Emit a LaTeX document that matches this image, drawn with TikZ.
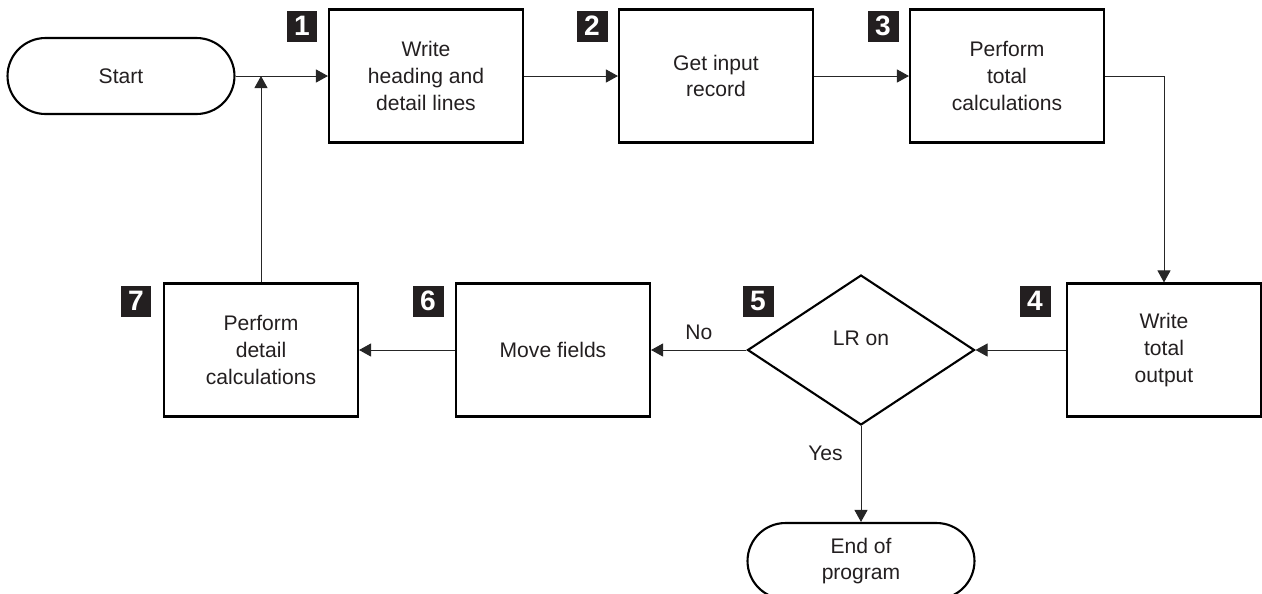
\documentclass[tikz,border=0pt]{standalone}
\usepackage{fontspec}
\setmainfont{Liberation Sans}
\usetikzlibrary{arrows.meta,shapes.geometric}
\definecolor{ink}{HTML}{231F20}

\begin{document}
\begin{tikzpicture}[x=0.02cm, y=-0.02cm,
    font=\fontsize{12}{15.3}\selectfont, text=ink,
    proc/.style={shape=rectangle, draw=black, line width=1.2pt, minimum width=3.88cm, minimum height=2.66cm, inner sep=0pt, align=center},
    term/.style={shape=rectangle, rounded corners=0.76cm, draw=black, line width=1.2pt, minimum width=4.54cm, minimum height=1.52cm, inner sep=0pt, align=center},
    decide/.style={shape=diamond, draw=black, line width=1.2pt, minimum width=4.54cm, minimum height=3cm, inner sep=0pt},
    badge/.style={shape=rectangle, fill=ink, text=white, minimum size=0.62cm, inner sep=0pt, font=\fontsize{16}{16}\selectfont\bfseries},
    flow/.style={draw=black!85, line width=0.55pt, -{Triangle[length=0.24cm,width=0.26cm]}}]
    \useasboundingbox (0,0) rectangle (1262,593);
    \node[term] (start) at (121,76) {Start};
    \node[proc] (write) at (426,76) {Write\\heading and\\detail lines};
    \node[proc] (input) at (716,76) {Get input\\record};
    \node[proc] (totcalc) at (1007,76) {Perform\\total\\calculations};
    \node[proc] (totout) at (1164,350) {Write\\total\\output};
    \node[decide, label={[yshift=0.24cm]center:LR on}] (lron) at (861,350) {};
    \node[proc] (move) at (553,350) {Move fields};
    \node[proc] (detcalc) at (261,350) {Perform\\detail\\calculations};
    \node[term] (finish) at (861,561) {End of\\program};
    \foreach \n/\bx/\by in {1/302/26, 2/592/26, 3/883/26, 4/1035/301, 5/758/301, 6/428/301, 7/136/301}
        {\node[badge] (badge\n) at (\bx,\by) {\n};}
    \coordinate (join) at (detcalc.north |- start.east);
    \draw[flow] (start.east) -- (write.west);
    \draw[flow] (write.east) -- (input.west);
    \draw[flow] (input.east) -- (totcalc.west);
    \draw[flow] (totcalc.east) -| (totout.north);
    \draw[flow] (totout.west) -- (lron.east);
    \draw[flow] (lron.west) -- node[above=2pt] (nolab) {No} (move.east);
    \draw[flow] (lron.south) -- node[pos=0.28, left=0.24cm] (yeslab) {Yes} (finish.north);
    \draw[flow] (move.west) -- (detcalc.east);
    \draw[flow] (detcalc.north) -- (join);
\end{tikzpicture}
\end{document}
